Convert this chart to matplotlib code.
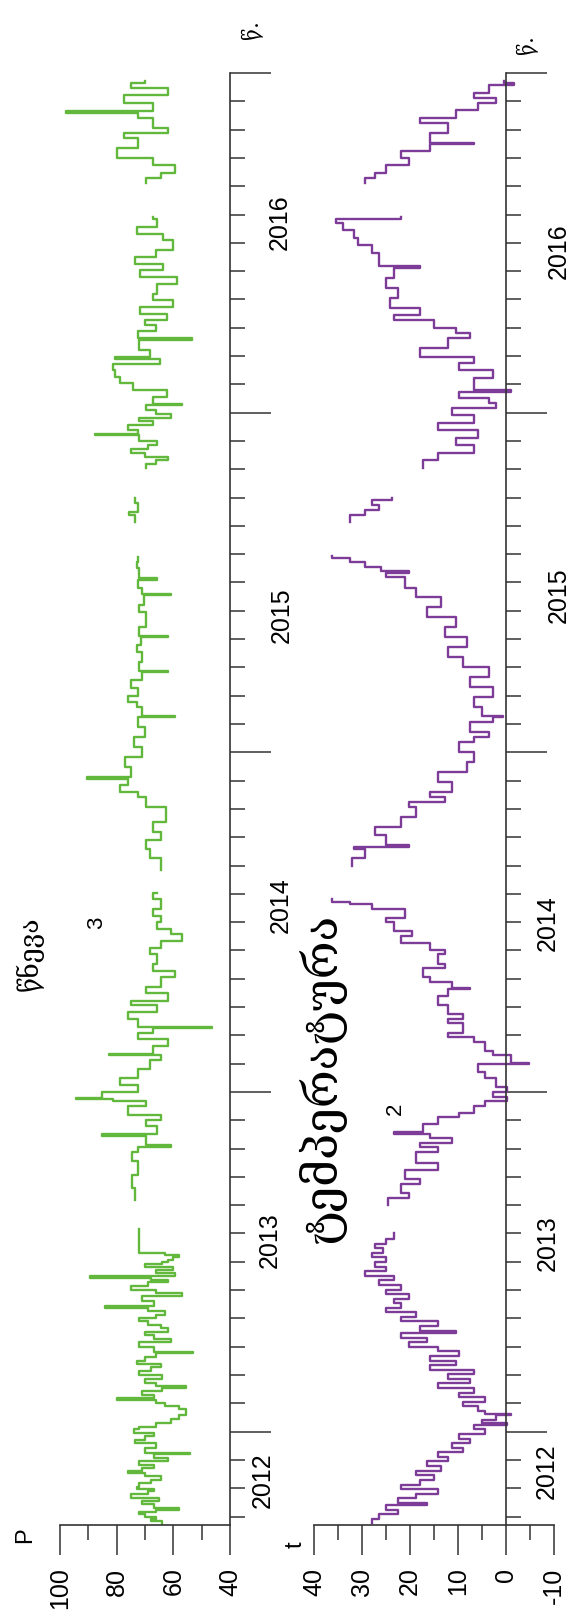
import numpy as np
import matplotlib.pyplot as plt

# Fonts: Arial-like for numbers, fallback for Georgian text
plt.rcParams['font.family'] = ['Liberation Sans', 'DejaVu Sans']
plt.rcParams['axes.unicode_minus'] = False

W, H = 572, 1616
nan = np.nan

# time is counted in months from Jan 2012 (12 = Jan 2013 ... 60 = Jan 2017)
# pressure (green), gaps marked with nan
p_month = [8.75, 8.84, 8.92, 9.0, 9.08, 9.16, 9.24, 9.3, 9.45, 9.55, 9.65, 9.78, 9.9, 9.98, 10.05,
           10.18, 10.3, 10.42, 10.54, 10.62, 10.7, 10.82, 10.95, 11.08, 11.2, 11.26, 11.42, 11.6,
           11.72, 11.84, 11.96, 12.08, 12.18, 12.3, 12.45, 12.57, 12.8, 12.9, 13.0, 13.13, 13.19,
           13.3, 13.42, 13.54, 13.6, 13.7, 13.85, 14.0, 14.14, 14.27, 14.38, 14.5, 14.62, 14.76,
           14.82, 14.98, 15.16, 15.28, 15.4, 15.52, 15.65, 15.78, 15.9, 16.02, 16.13, 16.25, 16.38,
           16.44, 16.6, 16.78, 16.9, 17.02, 17.14, 17.27, 17.35, 17.43, 17.48, 17.6, 17.72, 17.83,
           17.92, 18.0, 18.08, 18.16, 18.24, 18.32, 19.15, nan,
           20.18, 20.59, 21.08, 21.56, 21.89, 22.05, 22.12, 22.45, 22.5, 22.78, 23.02, 23.18, 23.51,
           23.67, 23.75, 23.8, 23.99, 24.24, 24.48, 24.8, 25.13, 25.29, 25.34, 25.61, 25.86, 26.1,
           26.26, 26.31, 26.59, 26.83, 27.07, 27.23, 27.48, 27.72, 28.05, 28.29, 28.53, 28.86, 29.1,
           29.34, 29.59, 29.75, 29.99, 30.23, 30.48, 30.8, 31.04, nan,
           31.85, 32.26, 32.58, 32.9, 33.2, 33.53, 34.06, 34.41, 34.59, 34.85, 35.07, 35.12, 35.47,
           35.83, 36.18, 36.53, 36.88, 37.24, 37.29, 37.6, 37.77, 38.0, 38.26, 38.56, 38.82, 38.87,
           39.18, 39.53, 39.8, 40.06, 40.11, 40.41, 40.94, 41.2, 41.56, 41.61, 41.82, 42.1, 42.15,
           42.5, 42.71, 42.9, nan,
           44.12, 44.4, 44.5, 44.8, 45.0, nan,
           46.06, 46.2, 46.32, 46.45, 46.59, 46.72, 46.85, 47.0, 47.21, 47.26, 47.4, 47.56, 47.7,
           47.82, 47.95, 48.09, 48.27, 48.32, 48.55, 48.79, 49.03, 49.26, 49.5, 49.73, 49.91, 49.96,
           50.2, 50.58, 50.63, 50.9, 51.1, 51.26, 51.5, 51.73, 51.97, 52.2, 52.56, 52.79, 53.03,
           53.26, 53.5, 53.73, 54.09, 54.32, 54.56, 54.85, 54.9, nan,
           56.12, 56.29, 56.47, 56.74, 57.0, 57.35, 57.71, 57.88, 58.06, 58.41, 58.59, 58.64, 58.94,
           59.21, 59.47, 59.65, 59.7]
p_value = [64, 68, 66, 70, 72, 66, 58, 67, 71, 65, 75, 69, 67, 73, 72,
           68, 64.5, 70, 76, 71, 67, 72, 62, 67, 54, 70, 66, 73.5,
           70, 67, 74, 72, 66, 61, 58, 55.5, 58, 63, 66, 80, 67,
           71, 64, 55.5, 66, 70, 64, 72, 68, 64.5, 73, 70, 66, 53,
           67, 72, 61, 67, 70, 62, 64.5, 69, 72, 66, 63, 69, 84,
           67, 71, 57, 66, 75, 69, 62, 68, 89.5, 59.5, 66, 60, 70,
           64, 62, 60, 58, 63, 72, 72, nan,
           73.6, 74.5, 72.3, 74.5, 72.3, 60.7, 69.7, 85.2, 65.8, 69.7, 64.5, 76.1, 69.7,
           81.3, 94.2, 85.2, 72.3, 78.8, 72.3, 68.4, 64.5, 82.6, 67.1, 62, 72.3, 67.1,
           46.5, 72.3, 76.1, 65.8, 74.9, 62, 69.7, 64.5, 59.4, 67.1, 65.8, 68.4, 64.5,
           56.8, 60.7, 65.8, 64.5, 67.1, 64.5, 67.1, 65.8, nan,
           64.5, 68.4, 69.7, 64.5, 67.1, 62.5, 69.7, 72.3, 78.8, 76.1, 90.4, 74.9, 77,
           71, 74, 70, 72.3, 59.4, 71, 73, 76.1, 72.5, 75, 71, 62, 72,
           71, 73, 71.5, 62, 72, 69.5, 72, 70.5, 60.7, 71, 72.5, 65.8, 72,
           73, 72.3, 72.3, nan,
           73.6, 75.5, 72.3, 73.6, 73.6, nan,
           69.7, 66, 62, 70, 74.9, 69, 65.8, 72, 87.6, 72.3, 76, 67.1, 72,
           60.7, 66, 69.7, 56.8, 67.1, 62.3, 74.2, 78.8, 80.6, 81.2, 64.7, 80.6, 68.2,
           72, 53.5, 72.4, 66, 70, 62.4, 71.8, 60, 67.1, 65.9, 58.8, 71.8, 63.5,
           73.5, 66, 60, 63.5, 72.9, 65.9, 67.1, 67.1, nan,
           69.7, 64.5, 59.4, 67.1, 80, 72.3, 77.5, 62, 67.1, 72.3, 97.8, 67.1, 77.5,
           62, 74.9, 70, 70]

# temperature (purple)
t_month = [8.76, 8.92, 9.08, 9.24, 9.41, 9.49, 9.65, 9.81, 9.97, 10.13, 10.3, 10.46, 10.62, 10.78,
           10.95, 11.1, 11.27, 11.43, 11.59, 11.75, 11.92, 12.08, 12.24, 12.3, 12.4, 12.57, 12.62,
           12.73, 12.89, 13.05, 13.21, 13.38, 13.54, 13.7, 13.86, 14.02, 14.18, 14.35, 14.51, 14.67,
           14.83, 15.0, 15.16, 15.32, 15.48, 15.56, 15.73, 15.89, 16.05, 16.21, 16.38, 16.54, 16.7,
           16.86, 17.02, 17.19, 17.35, 17.51, 17.67, 17.83, 18.0, 18.16, 18.32, 18.48, 18.64, 18.8,
           19.0, nan,
           20.02, 20.27, 20.43, 20.75, 20.91, 21.24, 21.48, 21.89, 22.05, 22.21, 22.37, 22.53, 22.58,
           22.86, 23.1, 23.26, 23.51, 23.67, 23.83, 23.99, 24.16, 24.48, 24.72, 24.97, 25.02, 25.29,
           25.45, 25.78, 25.94, 26.1, 26.42, 26.59, 26.75, 27.07, 27.4, 27.64, 27.69, 27.88, 28.05,
           28.37, 28.53, 28.86, 29.02, 29.26, 29.5, 29.67, 29.99, 30.15, 30.48, 30.64, 30.72, 30.8, nan,
           31.97, 32.26, 32.58, 32.66, 32.71, 33.07, 33.36, 33.71, 34.06, 34.23, 34.41, 34.59, 34.94,
           35.29, 35.65, 36.0, 36.35, 36.53, 36.71, 37.06, 37.24, 37.29, 37.59, 37.94, 38.3, 38.65,
           39.0, 39.35, 39.71, 40.06, 40.41, 40.77, 41.12, 41.47, 41.82, 42.18, 42.35, 42.4, 42.53,
           42.71, 42.88, 42.95, nan,
           44.12, 44.38, 44.56, 44.74, 44.91, 45.0, nan,
           46.06, 46.32, 46.59, 46.85, 47.12, 47.38, 47.65, 47.91, 48.18, 48.35, 48.53, 48.74, 48.79,
           49.24, 49.5, 49.76, 49.98, 50.29, 50.65, 50.82, 51.0, 51.27, 51.44, 51.71, 52.06, 52.41,
           52.77, 53.12, 53.17, 53.65, 53.91, 54.18, 54.44, 54.71, 54.85, 54.9, nan,
           56.12, 56.29, 56.47, 56.74, 57.0, 57.26, 57.49, 57.54, 57.88, 58.24, 58.41, 58.68, 58.94,
           59.12, 59.29, 59.56, 59.65, 59.7]
t_value = [27.9, 26.4, 22.6, 24.9, 16.5, 22.6, 18.8, 14.2, 21.8, 18, 15, 18.8, 13.5, 16.5,
           12, 14.2, 8.9, 11.2, 7.4, 9.7, 4.4, 6.6, -0.2, 5.1, 2.1, -1, 4.4,
           5.9, 8.9, 4.4, 9.7, 6.6, 14.2, 7.4, 12, 6.6, 15.8, 10.4, 15.8, 9.7,
           14.2, 20.3, 16.5, 21.8, 10.4, 18, 14.2, 21.8, 18.8, 24.9, 21.8, 23.3, 20.3,
           24.9, 21.8, 26.4, 23.3, 29.4, 24.9, 27.2, 24.9, 27.9, 25.6, 27.2, 24.9, 23.3,
           23.3, nan,
           24.5, 20.3, 21.8, 18, 21.1, 14.2, 18.8, 14.2, 18, 11.2, 15.8, 23.3, 17.3,
           14.2, 9.7, 6.6, 4.4, -0.2, 2.8, -0.2, 2.1, 4.4, 5.9, -4.8, -1, 2.8,
           4.4, 6.6, 12, 8.9, 12, 8.9, 12, 14.2, 12, 7.4, 11.2, 15.8, 17.3,
           12.7, 14.2, 12.7, 15.8, 21.8, 19.6, 23.3, 24.9, 21.1, 27.9, 32.4, 36.3, 36.3, nan,
           32.1, 29.4, 31.7, 20.3, 24.9, 27.2, 21.8, 18.8, 20.3, 12.7, 15.8, 11.2, 14.2,
           8.2, 6.6, 9.7, 6.6, 3.6, 7.4, 2.8, 0.6, 5.1, 6.6, 2.8, 7.4, 3.6,
           8.9, 12, 8.2, 12.7, 10.4, 16.5, 13.5, 18.8, 21.1, 24.9, 20.3, 26, 29.4,
           32.4, 36.3, 36.3, nan,
           32.4, 29.4, 26.4, 27.9, 23.7, 23.7, nan,
           17.3, 14.2, 6.6, 10.4, 5.9, 14.2, 6.6, 11.2, 2.1, 3.6, 9.7, -1, 6.6,
           2.8, 9.7, 6.6, 18, 12, 7.4, 10.4, 15, 23.3, 18, 24.1, 22.6, 24.9,
           23.3, 18, 26.4, 27.9, 30.9, 31.7, 34, 35.5, 21.8, 21.8, nan,
           29.4, 27.2, 24.9, 20.3, 21.8, 15.8, 6.6, 15.8, 12, 18, 10.4, 5.9, 2.1,
           6.6, 3.6, -1.7, 0.5, 0.5]

year_names = ['2012', '2013', '2014', '2015', '2016']
month_start, month_end = 8.7, 60

green = '#62b83c'
purple = '#7c3c98'
axis_color = '#333333'

fig = plt.figure(figsize=(W / 100, H / 100), dpi=100)


def px_axes(left, right, top, bottom):
    # axes placed by pixel edges of the picture
    return fig.add_axes([left / W, 1 - bottom / H, (right - left) / W, (bottom - top) / H])


def fx(x):
    return x / W


def fy(y):
    return 1 - y / H


ax1 = px_axes(60, 230, 73, 1525)
ax2 = px_axes(314, 554, 73, 1525)

ax1.plot(p_value, p_month, color=green, lw=1.7, drawstyle='steps-pre')
ax2.plot(t_value, t_month, color=purple, lw=1.7, drawstyle='steps-pre')

ax1.set_xlim(100, 40)
ax1.set_xticks([100, 80, 60, 40])
ax1.set_xticks([90, 70, 50], minor=True)
ax2.set_xlim(40, -10)
ax2.set_xticks([40, 30, 20, 10, 0, -10])
ax2.set_xticks([35, 25, 15, 5, -5], minor=True)
ax2.spines['right'].set_position(('data', 0))

for ax in (ax1, ax2):
    ax.set_facecolor('none')
    ax.spines['top'].set_visible(False)
    ax.spines['left'].set_visible(False)
    for side in ('bottom', 'right'):
        ax.spines[side].set_color(axis_color)
        ax.spines[side].set_linewidth(1.2)
    ax.yaxis.tick_right()
    ax.set_ylim(month_start, month_end)
    ax.set_yticks(range(12, 61, 12))
    ax.set_yticks([m for m in range(9, 60) if m % 12], minor=True)
    ax.tick_params(axis='y', which='major', length=29.5, width=1.1, color=axis_color, labelright=False)
    ax.tick_params(axis='y', which='minor', length=11, width=1.1, color=axis_color)
    ax.tick_params(axis='x', which='major', length=21.6, width=1.1, color=axis_color,
                   labelsize=18, labelrotation=90, pad=9)
    ax.tick_params(axis='x', which='minor', length=11, width=1.1, color=axis_color)

# year labels along the time axes
top_year_pos = [(263, 1480), (270, 1240), (281, 905), (282, 615), (280, 222)]
bot_year_pos = [(547, 1471), (548, 1243), (548, 923), (559, 595), (559, 251)]
for name, (x, y) in zip(year_names, top_year_pos):
    fig.text(fx(x), fy(y), name, rotation=90, fontsize=18, ha='center', va='center')
for name, (x, y) in zip(year_names, bot_year_pos):
    fig.text(fx(x), fy(y), name, rotation=90, fontsize=18, ha='center', va='center')

# axis names and titles
geo = ['DejaVu Serif', 'DejaVu Sans']
fig.text(fx(25), fy(1535), 'P', rotation=90, fontsize=17, ha='center', va='center')
fig.text(fx(296), fy(1545), 't', rotation=90, fontsize=17, ha='center', va='center')
fig.text(fx(252), fy(30), 'წ.', rotation=90, fontsize=15, ha='center', va='center', family=geo)
fig.text(fx(527), fy(45), 'წ.', rotation=90, fontsize=15, ha='center', va='center', family=geo)
fig.text(fx(30), fy(954), 'წნევა', rotation=90, fontsize=19, ha='center', va='center', family=geo)
fig.text(fx(322), fy(1078), 'ტემპერატურა', rotation=90, fontsize=33, ha='center', va='center', family=geo)
fig.text(fx(97), fy(923), '3', rotation=90, fontsize=16, ha='center', va='center')
fig.text(fx(395), fy(1109), '2', rotation=90, fontsize=16, ha='center', va='center')

plt.savefig('out.png', dpi=100)
